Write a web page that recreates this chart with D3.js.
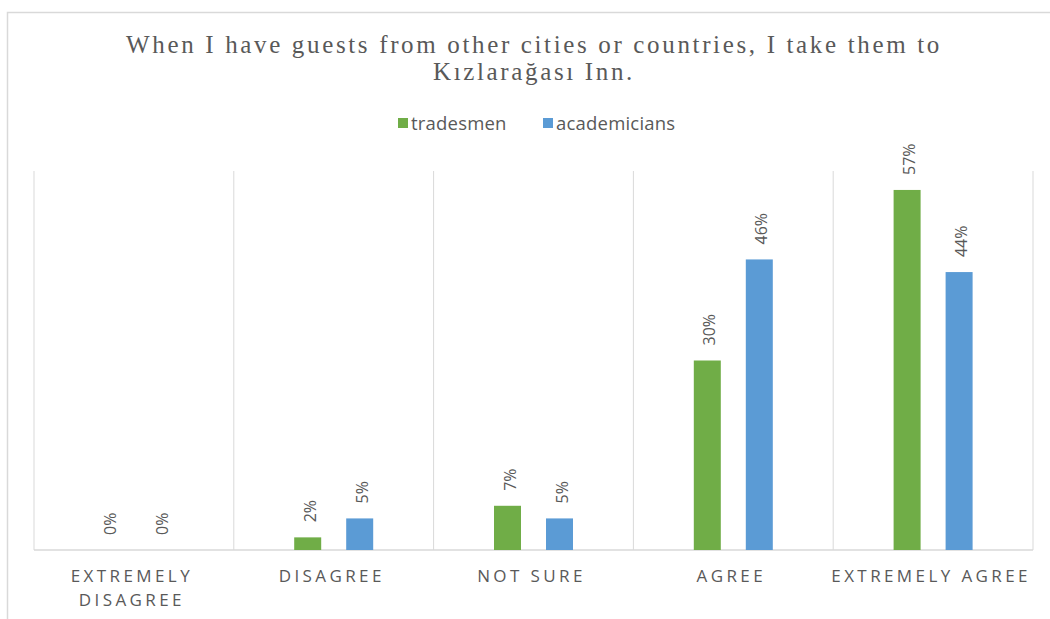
<!DOCTYPE html>
<html>
<head>
<meta charset="utf-8">
<script src="https://cdn.jsdelivr.net/npm/d3@7"></script>
<style>
  body { margin: 0; background: #fff; }
  svg text { fill: #595959; }
</style>
</head>
<body>
<div id="chart"></div>
<script>
const categories = ["EXTREMELY DISAGREE", "DISAGREE", "NOT SURE", "AGREE", "EXTREMELY AGREE"];
const categoryLines = [["EXTREMELY", "DISAGREE"], ["DISAGREE"], ["NOT SURE"], ["AGREE"], ["EXTREMELY AGREE"]];
const seriesNames = ["tradesmen", "academicians"];
const tradesmen = [0, 2, 7, 30, 57];
const academicians = [0, 5, 5, 46, 44];
const colors = ["#70ad47", "#5b9bd5"];

const fullWidth = 1050, fullHeight = 619;
const plot = { left: 34, right: 1033, top: 171, bottom: 550 };

const svg = d3.select("#chart").append("svg")
  .attr("width", fullWidth)
  .attr("height", fullHeight);

// chart frame (cropped on right/bottom in the original)
svg.append("path")
  .attr("d", `M7.5,${fullHeight} V12.5 H${fullWidth}`)
  .attr("fill", "none")
  .attr("stroke", "#d9d9d9")
  .attr("stroke-width", 1.5);

// title
const title = svg.append("text")
  .attr("text-anchor", "middle")
  .style("font-family", "'Liberation Serif', 'DejaVu Serif', serif")
  .style("font-size", "25px")
  .style("letter-spacing", "2.65px");
title.append("tspan").attr("x", 534).attr("y", 53)
  .text("When I have guests from other cities or countries, I take them to");
title.append("tspan").attr("x", 534).attr("y", 80)
  .text("Kızlarağası Inn.");

// legend
const legendX = [398, 543];
seriesNames.forEach((name, i) => {
  svg.append("rect")
    .attr("x", legendX[i]).attr("y", 118)
    .attr("width", 10).attr("height", 10)
    .attr("fill", colors[i]);
  svg.append("text")
    .attr("x", legendX[i] + 13).attr("y", 130)
    .style("font-family", "'Open Sans', sans-serif")
    .style("font-size", "18.5px")
    .style("letter-spacing", "0.2px")
    .text(name);
});

const x = d3.scaleBand().domain(categories).range([plot.left, plot.right]);
const y = d3.scaleLinear().domain([0, 60]).range([plot.bottom, plot.top]);

// category separators
const edges = categories.map(c => x(c)).concat([plot.right]);
svg.append("g").selectAll("line")
  .data(edges)
  .join("line")
  .attr("x1", d => d).attr("x2", d => d)
  .attr("y1", plot.top).attr("y2", plot.bottom)
  .attr("stroke", "#d9d9d9").attr("stroke-width", 1);

// baseline
svg.append("line")
  .attr("x1", plot.left).attr("x2", plot.right)
  .attr("y1", plot.bottom).attr("y2", plot.bottom)
  .attr("stroke", "#d9d9d9").attr("stroke-width", 1.5);

const rows = [];
categories.forEach((c, i) => {
  rows.push({ cat: c, series: "tradesmen", value: tradesmen[i], color: colors[0] });
  rows.push({ cat: c, series: "academicians", value: academicians[i], color: colors[1] });
});

const barW = 27;
const offset = { tradesmen: -26, academicians: 26 };
const cx = d => x(d.cat) + x.bandwidth() / 2 + offset[d.series];

svg.append("g").selectAll("rect")
  .data(rows.filter(d => d.value > 0))
  .join("rect")
  .attr("x", d => cx(d) - barW / 2)
  .attr("y", d => y(d.value))
  .attr("width", barW)
  .attr("height", d => y(0) - y(d.value))
  .attr("fill", d => d.color);

// value labels, rotated
svg.append("g").selectAll("text")
  .data(rows)
  .join("text")
  .attr("transform", d => `translate(${cx(d) + 8},${y(d.value) - 15}) rotate(-90)`)
  .attr("text-anchor", "start")
  .style("font-family", "'Open Sans', sans-serif")
  .style("font-size", "16px")
  .text(d => d.value + "%");

// x-axis category labels
categories.forEach((c, i) => {
  const t = svg.append("text")
    .attr("text-anchor", "middle")
    .style("font-family", "'Open Sans', sans-serif")
    .style("font-size", "17px")
    .style("letter-spacing", "3.4px");
  categoryLines[i].forEach((line, j) => {
    t.append("tspan")
      .attr("x", x(c) + x.bandwidth() / 2 - 2)
      .attr("y", 582 + j * 24)
      .text(line);
  });
});
</script>
</body>
</html>
